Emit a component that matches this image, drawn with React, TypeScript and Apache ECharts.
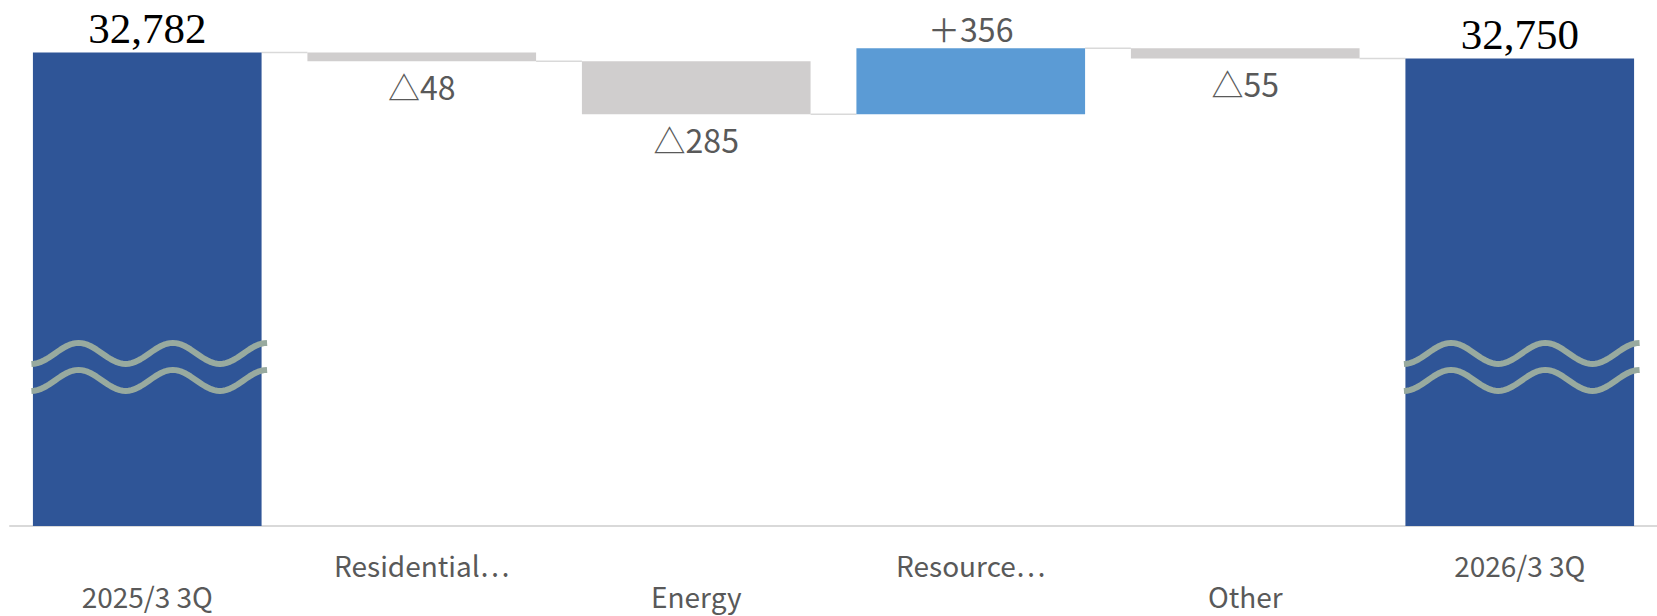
import React, { useEffect, useRef } from 'react';
import * as echarts from 'echarts';

// Bridge of the total from 2025/3 3Q to 2026/3 3Q by segment
const categories = ['2025/3 3Q', 'Residential⋯', 'Energy', 'Resource⋯', 'Other', '2026/3 3Q'];
const startTotal = 32782;
const segmentChanges = [-48, -285, 356, -55];
const endTotal = 32750;

// value axis window (the bars are cut, shown by the wave marks)
const axisMin = 30230;
const axisMax = 33000;
const breakValue = 31160;

const DARK_BLUE = '#2F5597';
const LIGHT_BLUE = '#5B9BD5';
const GREY_BAR = '#D0CECE';
const CONNECTOR = '#D9D9D9';
const TEXT_GREY = '#595959';
const WAVE = '#98AA9F';
const BAR_RATIO = 0.833;

const SANS = '"Noto Sans CJK JP", "DejaVu Sans", sans-serif';

export default function App() {
  const ref = useRef<HTMLDivElement>(null);

  useEffect(() => {
    if (!ref.current) return;
    const chart = echarts.init(ref.current, undefined, { renderer: 'svg' });

    // running levels after each step
    const levels: number[] = [startTotal];
    segmentChanges.forEach((c) => levels.push(levels[levels.length - 1] + c));

    const n = categories.length;
    const baseData: (number | string)[] = new Array(n).fill('-');
    const totalData: (number | string)[] = new Array(n).fill('-');
    const downData: (number | string)[] = new Array(n).fill('-');
    const upData: (number | string)[] = new Array(n).fill('-');
    totalData[0] = startTotal;
    totalData[n - 1] = endTotal;
    segmentChanges.forEach((c, k) => {
      const i = k + 1;
      baseData[i] = Math.min(levels[k], levels[k + 1]);
      if (c < 0) downData[i] = -c;
      else upData[i] = c;
    });
    // connectors between neighbouring bars at the running level
    const connectorData = levels.map((v, i) => [i, v]);

    const barWidth = `${BAR_RATIO * 100}%`;

    const labelStyle = {
      interval: 0,
      color: TEXT_GREY,
      fontSize: 28,
      lineHeight: 28,
      fontFamily: SANS,
    };

    chart.setOption({
      animation: false,
      grid: { left: 10, top: 12, width: 1654, height: 514, containLabel: false },
      xAxis: [
        {
          // upper row of category names (odd positions)
          type: 'category',
          data: categories,
          position: 'bottom',
          axisLine: { show: true, lineStyle: { color: CONNECTOR, width: 2 } },
          axisTick: { show: false },
          axisLabel: {
            ...labelStyle,
            margin: 25,
            formatter: (v: string, i: number) => (i % 2 === 1 ? v : ''),
          },
          splitLine: { show: false },
        },
        {
          // lower row of category names (even positions)
          type: 'category',
          data: categories,
          position: 'bottom',
          offset: 0,
          axisLine: { show: false },
          axisTick: { show: false },
          axisLabel: {
            ...labelStyle,
            margin: 56,
            formatter: (v: string, i: number) => (i % 2 === 0 ? v : ''),
          },
          splitLine: { show: false },
        },
      ],
      yAxis: {
        type: 'value',
        min: axisMin,
        max: axisMax,
        show: false,
        splitLine: { show: false },
      },
      series: [
        {
          name: 'base',
          type: 'bar',
          stack: 'w',
          barWidth,
          data: baseData,
          itemStyle: { color: 'transparent' },
          silent: true,
        },
        {
          name: 'total',
          type: 'bar',
          stack: 'w',
          barWidth,
          data: totalData,
          itemStyle: { color: DARK_BLUE },
          label: {
            show: true,
            position: 'top',
            distance: 2,
            color: '#000',
            fontSize: 43,
            fontFamily: '"Liberation Serif", "Times New Roman", serif',
            formatter: (p: any) => Number(p.value).toLocaleString('en-US'),
          },
        },
        {
          name: 'decrease',
          type: 'bar',
          stack: 'w',
          barWidth,
          data: downData,
          itemStyle: { color: GREY_BAR },
          label: {
            show: true,
            position: 'bottom',
            distance: 9,
            color: TEXT_GREY,
            fontSize: 32,
            fontFamily: SANS,
            formatter: (p: any) => '△' + p.value,
          },
        },
        {
          name: 'increase',
          type: 'bar',
          stack: 'w',
          barWidth,
          data: upData,
          itemStyle: { color: LIGHT_BLUE },
          label: {
            show: true,
            position: 'top',
            distance: 4,
            color: TEXT_GREY,
            fontSize: 32,
            fontFamily: SANS,
            formatter: (p: any) => '＋' + p.value,
          },
        },
        {
          name: 'connector',
          type: 'custom',
          data: connectorData,
          encode: { x: 0, y: 1 },
          silent: true,
          z: 1,
          renderItem: (params: any, api: any) => {
            const i = api.value(0);
            const v = api.value(1);
            if (i >= n - 1) return null;
            const p0 = api.coord([i, v]);
            const p1 = api.coord([i + 1, v]);
            const half = (api.size([1, 0])[0] * BAR_RATIO) / 2;
            return {
              type: 'line',
              shape: { x1: p0[0] + half, y1: p0[1], x2: p1[0] - half, y2: p1[1] },
              style: { stroke: CONNECTOR, lineWidth: 1.5 },
            };
          },
        },
      ],
    });

    // axis-break waves across the two total bars
    const x0 = chart.convertToPixel({ xAxisIndex: 0 }, categories[0]) as number;
    const x1 = chart.convertToPixel({ xAxisIndex: 0 }, categories[1]) as number;
    const band = x1 - x0;
    const half = (band * BAR_RATIO) / 2;
    const yc = chart.convertToPixel({ yAxisIndex: 0 }, breakValue) as number;
    const amp = 10.5;
    const gap = 27;
    const graphics: any[] = [];
    [0, n - 1].forEach((idx) => {
      const cx = chart.convertToPixel({ xAxisIndex: 0 }, categories[idx]) as number;
      const xs = cx - half - 1.5;
      const xe = cx + half + 5.5;
      const lambda = (xe - xs) / 2.5;
      [0, gap].forEach((dy) => {
        const pts: number[][] = [];
        const steps = 80;
        for (let s = 0; s <= steps; s++) {
          const x = xs + ((xe - xs) * s) / steps;
          const y = yc + dy + amp * Math.cos((2 * Math.PI * (x - xs)) / lambda);
          pts.push([x, y]);
        }
        graphics.push({
          type: 'polyline',
          silent: true,
          z: 100,
          shape: { points: pts },
          style: { stroke: WAVE, lineWidth: 6, fill: null, lineCap: 'butt', lineJoin: 'round' },
        });
      });
    });
    chart.setOption({ graphic: graphics });

    return () => chart.dispose();
  }, []);

  return (
    <div
      ref={ref}
      style={{ position: 'absolute', left: 0, top: 0, width: 1657, height: 616, background: '#fff' }}
    />
  );
}
